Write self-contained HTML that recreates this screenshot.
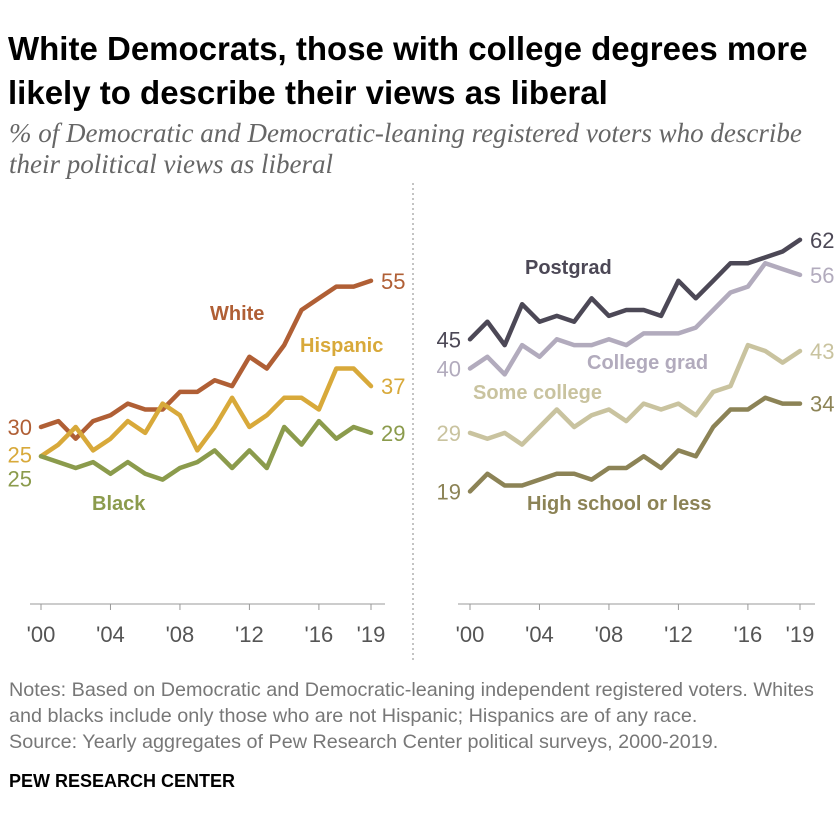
<!DOCTYPE html>
<html><head><meta charset="utf-8">
<style>
body{margin:0;background:#fff;width:840px;height:828px;overflow:hidden;font-family:"Liberation Sans",sans-serif;}
.t{position:absolute;left:8px;top:27px;font-size:33px;font-weight:bold;color:#000;line-height:44px;white-space:nowrap;}
.s{position:absolute;left:9px;top:118px;font-family:"Liberation Serif",serif;font-style:italic;font-size:27px;color:#666;line-height:31px;white-space:nowrap;}
.n{position:absolute;left:9px;top:677px;font-size:19.8px;color:#777;line-height:26px;white-space:nowrap;}
.p{position:absolute;left:9px;top:771px;font-size:18px;font-weight:bold;color:#000;}
svg{position:absolute;left:0;top:0;}
</style></head><body>
<div class="t">White Democrats, those with college degrees more<br>likely to describe their views as liberal</div>
<div class="s">% of Democratic and Democratic-leaning registered voters who describe<br>their political views as liberal</div>
<div class="n">Notes: Based on Democratic and Democratic-leaning independent registered voters. Whites<br>and blacks include only those who are not Hispanic; Hispanics are of any race.<br>Source: Yearly aggregates of Pew Research Center political surveys, 2000-2019.</div>
<div class="p">PEW RESEARCH CENTER</div>
<svg id="c" width="840" height="828"></svg>
<script>
const years=[2000,2001,2002,2003,2004,2005,2006,2007,2008,2009,2010,2011,2012,2013,2014,2015,2016,2017,2018,2019];
const tickLabels=["'00","'04","'08","'12","'16","'19"];
const tickYears=[2000,2004,2008,2012,2016,2019];
const white=[30,31,28,31,32,34,33,33,36,36,38,37,42,40,44,50,52,54,54,55];
const hispanic=[25,27,30,26,28,31,29,34,32,26,30,35,30,32,35,35,33,40,40,37];
const black=[25,24,23,24,22,24,22,21,23,24,26,23,26,23,30,27,31,28,30,29];
const postgrad=[45,48,44,51,48,49,48,52,49,50,50,49,55,52,55,58,58,59,60,62];
const collegeGrad=[40,42,39,44,42,45,44,44,45,44,46,46,46,47,50,53,54,58,57,56];
const someCollege=[29,28,29,27,30,33,30,32,33,31,34,33,34,32,36,37,44,43,41,43];
const hsOrLess=[19,22,20,20,21,22,22,21,23,23,25,23,26,25,30,33,33,35,34,34];
const NS="http://www.w3.org/2000/svg";
const svg=document.getElementById('c');
function el(t,a,p){const e=document.createElementNS(NS,t);for(const k in a)e.setAttribute(k,a[k]);(p||svg).appendChild(e);return e;}
function y(v){return 602.5-v*5.85;}
function xL(yr){return 41+(yr-2000)*(330/19);}
function xR(yr){return 470+(yr-2000)*(330/19);}
function axis(xf,x0,x1,name){
 const g=el('g',{});
 el('line',{x1:x0,x2:x1,y1:604,y2:604,stroke:'#999','stroke-width':1},g);
 tickYears.forEach((yr,i)=>{el('line',{x1:xf(yr),x2:xf(yr),y1:604,y2:610,stroke:'#999'},g);
  const t=el('text',{x:xf(yr),y:642,'text-anchor':'middle','font-size':22,fill:'#555'},g);t.textContent=tickLabels[i];});
}
axis(xL,30,385,'x-axis-left');axis(xR,458,815,'x-axis-right');
const dv=el('line',{x1:413,x2:413,y1:183,y2:662,stroke:'#888','stroke-dasharray':'2,3'});

function series(arr,xf,col,name,label,lx,ly,startLbl,sy){
 const d=arr.map((v,i)=>(i?'L':'M')+xf(years[i]).toFixed(1)+','+y(v).toFixed(1)).join('');
 const p=el('path',{d:d,fill:'none',stroke:col,'stroke-width':4.5,'stroke-linejoin':'round','stroke-linecap':'round'});
 
 const n=arr.length-1;
 const e=el('text',{x:xf(years[n])+10,y:y(arr[n])+8,'font-size':22,fill:col});e.textContent=arr[n];
 
 const s=el('text',{x:xf(years[0])-9,y:(sy||y(arr[0]))+8,'font-size':22,fill:col,'text-anchor':'end'});s.textContent=arr[0];
 
 const l=el('text',{x:lx,y:ly,'font-size':20,'font-weight':'bold',fill:col});l.textContent=label;
 
}
series(white,xL,'#b05f35','white','White',210,320);
series(hispanic,xL,'#d8a93a','hispanic','Hispanic',300,352,0,y(25)-2);
series(black,xL,'#8b9b4c','black','Black',92,510,0,y(25)+22);
series(postgrad,xR,'#4c4856','postgrad','Postgrad',525,274);
series(collegeGrad,xR,'#b2abbd','college-grad','College grad',587,369);
series(someCollege,xR,'#c9c39f','some-college','Some college',473,399);
series(hsOrLess,xR,'#8c8356','hs-or-less','High school or less',527,510);
</script>
</body></html>
